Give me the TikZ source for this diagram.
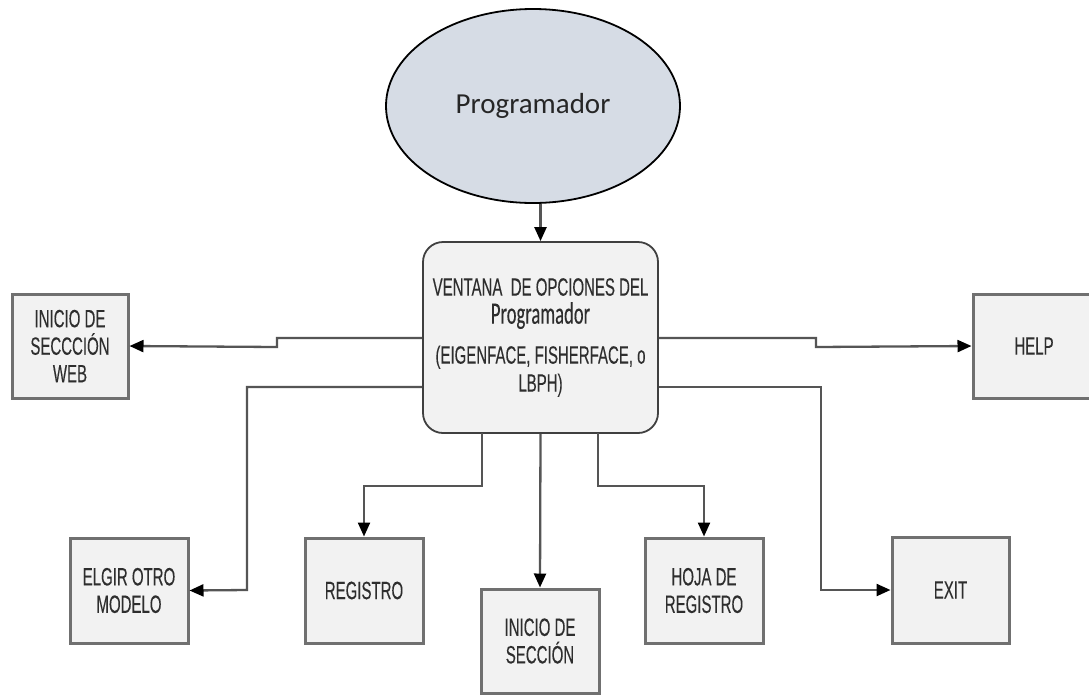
\documentclass[tikz,border=0pt]{standalone}
\usepackage{fontspec}
\usetikzlibrary{arrows.meta,shapes.geometric}
\setmainfont{Liberation Sans}
\newfontfamily\narrowfont[FakeStretch=0.6,FakeBold=0.2]{Liberation Sans}
\newfontfamily\calfont{Carlito}
\newfontfamily\calnarrow[FakeStretch=0.6,FakeBold=0.2]{Carlito}
\definecolor{ellfill}{HTML}{D6DCE5}
\definecolor{boxfill}{HTML}{F2F2F2}
\definecolor{boxline}{HTML}{707070}
\definecolor{wire}{HTML}{555555}
\definecolor{ink}{HTML}{2E2E2E}
\tikzset{
  actor/.style={ellipse,draw=black,line width=1.8pt,fill=ellfill,
    minimum width=294pt,minimum height=194pt,inner sep=0pt,
    font=\calfont\fontsize{29}{32}\selectfont,text=black!85},
  menu/.style={rectangle,rounded corners=20pt,draw=black!75,line width=1.8pt,
    fill=boxfill,minimum width=235pt,minimum height=191pt,align=center,
    text=ink,font=\narrowfont\fontsize{25}{28}\selectfont},
  option/.style={rectangle,draw=boxline,line width=3pt,fill=boxfill,
    minimum width=116pt,minimum height=104pt,align=center,inner sep=2pt,
    text=ink,font=\narrowfont\fontsize{25}{27.5}\selectfont},
  link/.style={draw=wire,line width=2.3pt,
    -{Triangle[length=14pt,width=12pt,color=black]}},
}
\begin{document}
\begin{tikzpicture}[x=1pt,y=-1pt]
\useasboundingbox (0,0) rectangle (1089,694);
\clip (0,0) rectangle (1089,694);
\fill[white] (0,0) rectangle (1089,694);

% user and main window
\node[actor] (prog) at (533,106) {Programador};
\node[menu] (menu) at (540.5,337.5) {VENTANA\ \ DE OPCIONES DEL\\[0pt]
  {\calnarrow\fontsize{31}{30}\selectfont Programador}\\[12pt]
  (EIGENFACE, FISHERFACE, o\\ LBPH)};

% options
\node[option] (web) at (70,346) {INICIO DE\\SECCCIÓN\\WEB};
\node[option,minimum width=122pt] (help) at (1034,346) {HELP};
\node[option,minimum width=118pt,minimum height=105pt] (elgir) at (129,590.5) {ELGIR OTRO\\MODELO};
\node[option,minimum width=118pt,minimum height=105pt] (reg) at (364,590.5) {REGISTRO};
\node[option,minimum width=118pt] (ses) at (540,641) {INICIO DE\\SECCIÓN};
\node[option,minimum width=118pt,minimum height=105pt] (hoja) at (704,590.5) {HOJA DE\\REGISTRO};
\node[option,minimum width=117pt,minimum height=106pt] (exit) at (950.5,590) {EXIT};

% connectors
\draw[link] (menu.north |- prog.south) -- (menu.north);
\draw[link] (menu.west |- 0,338) -- (277,338) -- (277,347) -- (web.east);
\draw[link] (menu.west |- 0,387) -- (247,387) -- (247,590) -- (elgir.east);
\draw[link] (482,433) -- (482,486) -- (364,486) -- (reg.north);
\draw[link] (menu.south) -- (ses.north);
\draw[link] (598,433) -- (598,486) -- (704,486) -- (hoja.north);
\draw[link] (menu.east |- 0,338) -- (816,338) -- (816,347) -- (help.west);
\draw[link] (menu.east |- 0,387) -- (821,387) -- (821,590) -- (exit.west);
\end{tikzpicture}
\end{document}
